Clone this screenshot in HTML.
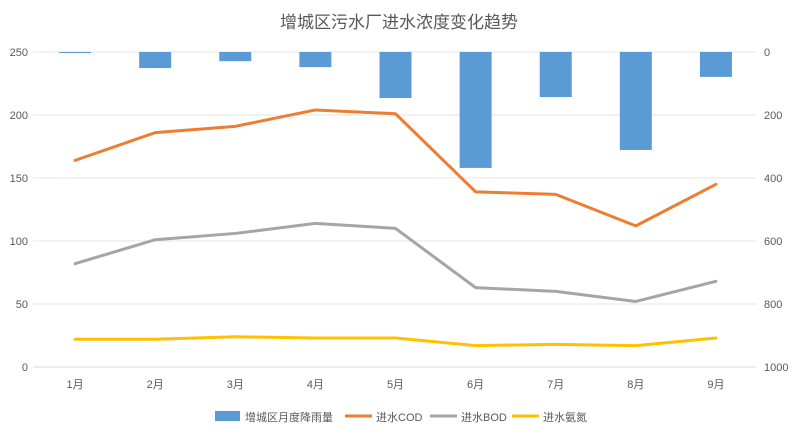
<!DOCTYPE html>
<html><head><meta charset="utf-8"><style>
body{margin:0;background:#fff;font-family:"Liberation Sans","Noto Sans CJK SC",sans-serif;}
svg text{font-family:"Liberation Sans","Noto Sans CJK SC",sans-serif;}
</style></head><body>
<svg id="c" width="799" height="437">
<text x="399" y="28" text-anchor="middle" font-size="17" fill="#595959">增城区污水厂进水浓度变化趋势</text>
<g id="grid"></g><g id="bars"></g><g id="lines"></g><g id="axes"></g>
<g font-size="11" fill="#595959">
<rect x="215" y="411" width="25" height="10" fill="#5b9bd5"/>
<text x="245" y="421">增城区月度降雨量</text>
<line x1="345" y1="416" x2="372" y2="416" stroke="#ed7d31" stroke-width="3"/>
<text x="376" y="421">进水COD</text>
<line x1="430" y1="416" x2="457" y2="416" stroke="#a5a5a5" stroke-width="3"/>
<text x="461" y="421">进水BOD</text>
<line x1="512" y1="416" x2="539" y2="416" stroke="#ffc000" stroke-width="3"/>
<text x="543" y="421">进水氨氮</text>
</g>
</svg>
<script>
const categories=["1月","2月","3月","4月","5月","6月","7月","8月","9月"];
const rain=[2,51,29,48,146,368,143,311,79];
const cod=[164,186,191,204,201,139,137,112,145];
const bod=[82,101,106,114,110,63,60,52,68];
const nh3=[22,22,24,23,23,17,18,17,23];
const leftTicks=[0,50,100,150,200,250];
const rightTicks=[0,200,400,600,800,1000];
const NS="http://www.w3.org/2000/svg";
const yTop=52,yBot=367,x0=35,x1=756;
const bw=(x1-x0)/categories.length;
const xc=i=>x0+bw*(i+0.5);
const yL=v=>yBot-(v/250)*(yBot-yTop);
const yR=v=>yTop+(v/1000)*(yBot-yTop);
function mk(tag,attrs,parent){const e=document.createElementNS(NS,tag);for(const k in attrs)e.setAttribute(k,attrs[k]);document.getElementById(parent).appendChild(e);return e;}
leftTicks.forEach(t=>{
 const g=mk('line',{x1:33,x2:x1,y1:yL(t),y2:yL(t),stroke:t===0?'#d9d9d9':'#e6e6e6','stroke-width':1},'grid');
 
 
 const l=mk('text',{x:28,y:yL(t)+4,'text-anchor':'end','font-size':11,fill:'#595959'},'axes');
 l.textContent=t;
 
 
});
rightTicks.forEach(t=>{
 const l=mk('text',{x:764,y:yR(t)+4,'font-size':11,fill:'#595959'},'axes');
 l.textContent=t;
 
 
});
categories.forEach((c,i)=>{
 const l=mk('text',{x:xc(i),y:388,'text-anchor':'middle','font-size':11,fill:'#595959'},'axes');
 l.textContent=c;
 
 
 const b=mk('rect',{x:xc(i)-16,y:yTop,width:32,height:Math.max(1,yR(rain[i])-yTop),fill:'#5b9bd5'},'bars');
 
 
});
[[cod,'#ed7d31','cod-line'],[bod,'#a5a5a5','bod-line'],[nh3,'#ffc000','nh3-line']].forEach(([d,col,n])=>{
 const p=mk('polyline',{points:d.map((v,i)=>xc(i)+','+yL(v)).join(' '),fill:'none',stroke:col,'stroke-width':3,'stroke-linejoin':'round','stroke-linecap':'round'},'lines');
 
 
});
</script>
</body></html>
